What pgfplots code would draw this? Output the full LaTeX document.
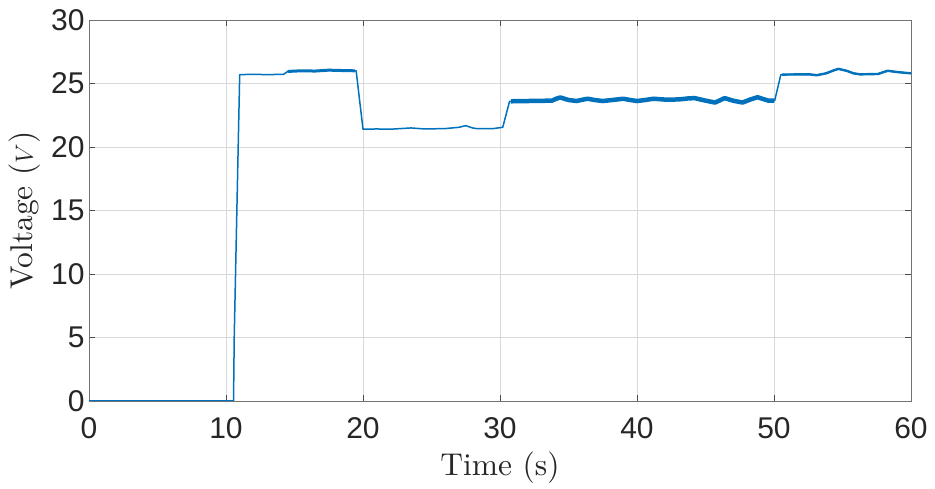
\documentclass[border=0pt]{standalone}
\usepackage{fontspec}
\usepackage{pgfplots}
\pgfplotsset{compat=1.18}
\newfontfamily\tickfont{Liberation Sans}
\newfontfamily\labfont{lmroman10-regular.otf}
\definecolor{mblue}{RGB}{0,114,189}
\begin{document}
\begin{tikzpicture}
\begin{axis}[
  at={(0pt,0pt)}, anchor=south west,
  width=822pt, height=381pt, scale only axis,
  xmin=0, xmax=60, ymin=0, ymax=30,
  xtick={0,10,...,60}, ytick={0,5,...,30},
  grid=major,
  grid style={black!15, line width=0.6pt},
  axis line style={black!55, line width=0.7pt},
  tick style={black!70, line width=0.7pt},
  tick align=inside, major tick length=6pt,
  /pgf/number format/assume math mode=true,
  ticklabel style={font=\tickfont\fontsize{30}{30}\selectfont, text=black!85},
  xticklabel style={yshift=-13pt},
  yticklabel style={xshift=-1pt},
  xlabel={Time (s)},
  ylabel={Voltage ($V$)},
  label style={font=\labfont\fontsize{31.5}{31.5}\selectfont, text=black!85},
  xlabel style={at={([yshift=-75pt]axis description cs:0.5,0)}, anchor=base},
  ylabel style={at={([xshift=-56pt]axis description cs:0,0.5)}, anchor=base},
]
\addplot[mblue, line width=1.5pt, line join=round] coordinates {
(0,0) (10.55,0) (10.6,5) (11.0,25.7) (12,25.72) (13,25.7) (14.2,25.72)
(14.5,25.95) (15.5,26.0) (16.5,25.98) (17.5,26.05) (18.5,26.02) (19.5,26.0)
(20.0,21.4) (21,21.42) (22,21.4) (23.5,21.5) (24.5,21.42) (26,21.45)
(27.0,21.55) (27.5,21.68) (28.0,21.5) (28.3,21.45) (29.5,21.45) (30.2,21.55) (30.7,23.6) (32,23.62)
(33.8,23.65) (34.1,23.8) (34.4,23.9) (34.7,23.8) (35.0,23.7) (35.6,23.62) (36.0,23.72) (36.4,23.8) (36.9,23.7) (37.5,23.62)
(38.2,23.7) (39.0,23.8) (39.5,23.7) (40.0,23.62) (40.6,23.7) (41.2,23.8) (42.2,23.72) (43.1,23.75) (43.7,23.82) (44.2,23.85)
(45.0,23.65) (45.7,23.5) (46.0,23.65) (46.4,23.85) (47.0,23.65) (47.7,23.5) (48.3,23.75) (48.8,23.92) (49.2,23.78) (49.6,23.65) (50.05,23.65)
(50.5,25.7) (52,25.72) (52.6,25.72) (53.1,25.65) (53.8,25.8) (54.4,26.05) (54.7,26.15) (55.3,26.0)
(55.8,25.8) (56.3,25.72) (57.6,25.75) (58.0,25.9) (58.3,26.0) (59,25.9) (60,25.8)
};
\addplot[mblue, line width=3pt, line join=round] coordinates {
(14.5,25.95) (15.5,26.0) (16.5,25.98) (17.5,26.05) (18.5,26.02) (19.4,26.0)
};
\addplot[mblue, line width=4.5pt, line join=round] coordinates {
(30.8,23.6) (32,23.62)
(33.8,23.65) (34.1,23.8) (34.4,23.9) (34.7,23.8) (35.0,23.7) (35.6,23.62) (36.0,23.72) (36.4,23.8) (36.9,23.7) (37.5,23.62)
(38.2,23.7) (39.0,23.8) (39.5,23.7) (40.0,23.62) (40.6,23.7) (41.2,23.8) (42.2,23.72) (43.1,23.75) (43.7,23.82) (44.2,23.85)
(45.0,23.65) (45.7,23.5) (46.0,23.65) (46.4,23.85) (47.0,23.65) (47.7,23.5) (48.3,23.75) (48.8,23.92) (49.2,23.78) (49.6,23.65) (50.0,23.65)
};
\addplot[mblue, line width=2.4pt, line join=round] coordinates {
(50.6,25.7) (52,25.72) (52.6,25.72) (53.1,25.65) (53.8,25.8) (54.4,26.05) (54.7,26.15) (55.3,26.0)
(55.8,25.8) (56.3,25.72) (57.6,25.75) (58.0,25.9) (58.3,26.0) (59,25.9) (60,25.8)
};
\end{axis}
\pgfresetboundingbox
\path (-89pt,-88pt) rectangle (846pt,401pt);
\end{tikzpicture}
\end{document}
